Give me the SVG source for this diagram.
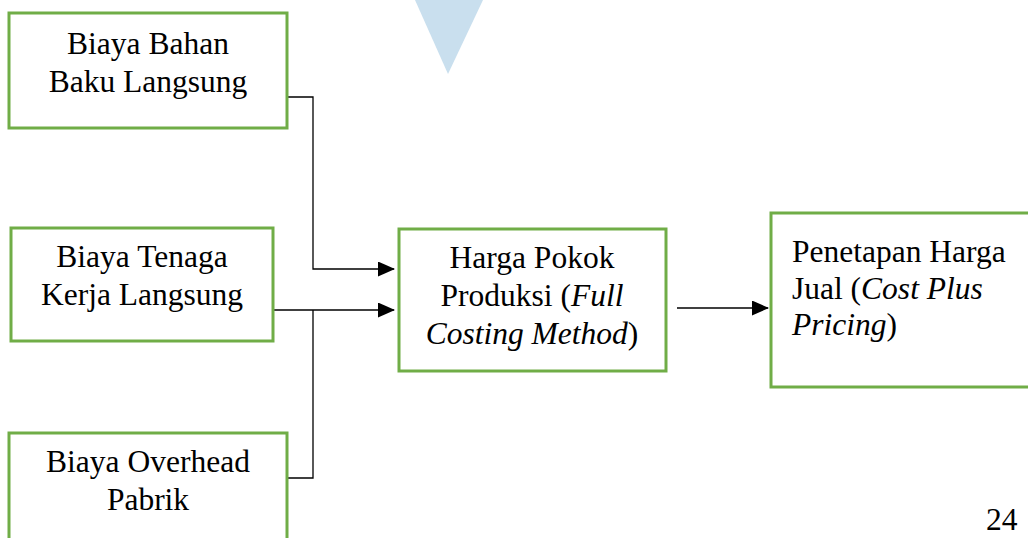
<svg xmlns="http://www.w3.org/2000/svg" width="1028" height="538" viewBox="0 0 1028 538">
<style>
.box{fill:#fff;stroke:#70ad47;stroke-width:3}
.t{font-family:'Liberation Serif','Times New Roman',serif;font-size:31.5px;fill:#000}
.c{text-anchor:middle}
.ln{fill:none;stroke:#000;stroke-width:1.3}
</style>
<defs>
<marker id="ah" markerWidth="17" markerHeight="15" refX="16" refY="7.5" orient="auto" markerUnits="userSpaceOnUse">
<path d="M0,0 L17,7.5 L0,15 Z" fill="#000"/>
</marker>
</defs>
<rect width="1028" height="538" fill="#fff"/>
<polygon points="415,0 483,0 448,74" fill="#c9dfee"/>
<g id="connectors">
<polyline class="ln" points="287,97 313,97 313,269 394,269" marker-end="url(#ah)"/>
<polyline class="ln" points="273,310 394,310" marker-end="url(#ah)"/>
<polyline class="ln" points="287,478 313,478 313,310"/>
<polyline class="ln" points="677,308 768,308" marker-end="url(#ah)"/>
</g>
<g id="bahan">
<rect class="box" x="9" y="13" width="278" height="115"/>
<text class="t c" x="148" y="54">Biaya Bahan</text>
<text class="t c" x="148" y="92">Baku Langsung</text>
</g>
<g id="tenaga">
<rect class="box" x="11" y="228" width="262" height="113"/>
<text class="t c" x="142" y="267">Biaya Tenaga</text>
<text class="t c" x="142" y="305">Kerja Langsung</text>
</g>
<g id="overhead">
<rect class="box" x="9" y="433" width="278" height="120"/>
<text class="t c" x="148" y="472">Biaya Overhead</text>
<text class="t c" x="148" y="510">Pabrik</text>
</g>
<g id="hpp">
<rect class="box" x="399" y="229" width="267" height="142"/>
<text class="t c" x="532" y="268">Harga Pokok</text>
<text class="t c" x="532" y="306">Produksi (<tspan font-style="italic">Full</tspan></text>
<text class="t c" x="532" y="344"><tspan font-style="italic">Costing Method</tspan>)</text>
</g>
<g id="harga-jual">
<rect class="box" x="771" y="213" width="270" height="174"/>
<text class="t" x="792" y="262">Penetapan Harga</text>
<text class="t" x="792" y="299">Jual (<tspan font-style="italic">Cost Plus</tspan></text>
<text class="t" x="792" y="335"><tspan font-style="italic">Pricing</tspan>)</text>
</g>
<text class="t" x="986" y="530">24</text>
</svg>
